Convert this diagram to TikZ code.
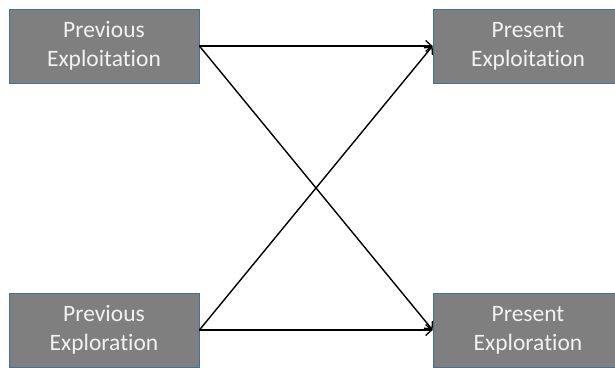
\documentclass[tikz,border=0pt]{standalone}
\usepackage{fontspec}
\setmainfont{Carlito}[Ligatures={NoCommon,NoRare}]
\usetikzlibrary{arrows.meta}
\definecolor{boxfill}{HTML}{7F7F7F}
\definecolor{boxline}{HTML}{41719C}
\definecolor{boxtext}{HTML}{F2F2F2}
\begin{document}
\begin{tikzpicture}[x=1pt,y=1pt,
  stagebox/.style={draw=boxline, line width=0.8pt, fill=boxfill, text=boxtext,
    minimum width=190pt, minimum height=74pt, inner sep=0pt, align=center,
    font=\fontsize{23.5}{29}\selectfont},
  link/.style={-{Straight Barb[length=6pt,width=11pt,line width=1.3pt]}, line width=1.4pt, black}]
\useasboundingbox (0,0) rectangle (615,367);
\node[stagebox] (pxt) at (104,321) {Previous\\Exploitation};
\node[stagebox] (nxt) at (528,321) {Present\\Exploitation};
\node[stagebox] (pxr) at (104,37) {Previous\\Exploration};
\node[stagebox] (nxr) at (528,37) {Present\\Exploration};
\draw[link] (pxt.east) -- (nxt.west);
\draw[link] (pxt.east) -- (nxr.west);
\draw[link] (pxr.east) -- (nxt.west);
\draw[link] (pxr.east) -- (nxr.west);
\end{tikzpicture}
\end{document}
